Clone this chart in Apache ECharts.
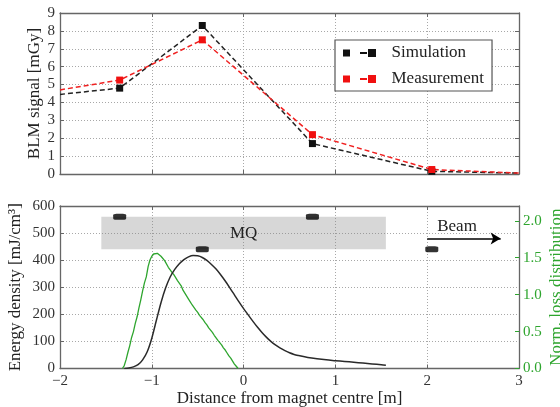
<!DOCTYPE html>
<html>
<head>
<meta charset="utf-8">
<script src="https://cdn.jsdelivr.net/npm/echarts@6/dist/echarts.min.js"></script>
<style>
  html, body { margin: 0; padding: 0; background: #fff; }
  #chart { width: 560px; height: 407px; }
</style>
</head>
<body>
<div id="chart"></div>
<script>
// BLM positions along the beam line [m] and their signals [mGy]
const blmPos = [-1.35, -0.45, 0.75, 2.05];
const simSignal = [4.8, 8.3, 1.7, 0.15];
const measSignal = [5.25, 7.5, 2.2, 0.25];
// dashed guide lines continue to the edges of the plot
const edgeX = [-2, 3];
const simEdge = [4.45, 0.05];
const measEdge = [4.7, 0.05];

// energy density along the magnet [mJ/cm^3]
const densityX = [-1.30, -1.25, -1.20, -1.15, -1.10, -1.05, -1.00, -0.95, -0.90, -0.85,
  -0.80, -0.75, -0.70, -0.65, -0.60, -0.55, -0.50, -0.45, -0.40, -0.35,
  -0.30, -0.25, -0.20, -0.15, -0.10, -0.05, 0.00, 0.05, 0.10, 0.15,
  0.20, 0.25, 0.30, 0.35, 0.40, 0.45, 0.50, 0.55, 0.60, 0.70,
  0.80, 0.90, 1.00, 1.10, 1.20, 1.30, 1.40, 1.50, 1.55];
const densityVal = [0, 2, 6, 14, 32, 62, 112, 178, 243, 297,
  338, 366, 387, 402, 412, 417, 416, 410, 399, 384,
  367, 346, 323, 298, 272, 246, 221, 198, 175, 153,
  133, 115, 99, 86, 75, 66, 58, 52, 48, 41,
  36, 32, 29, 26, 23, 20, 17, 14, 12];

// normalised loss distribution (right axis)
const lossX = [-1.32, -1.30, -1.28, -1.26, -1.24, -1.22, -1.20, -1.18, -1.16, -1.14,
  -1.12, -1.10, -1.08, -1.06, -1.04, -1.02, -1.00, -0.98, -0.96, -0.94,
  -0.92, -0.90, -0.88, -0.86, -0.84, -0.82, -0.80, -0.78, -0.76, -0.74,
  -0.72, -0.70, -0.68, -0.66, -0.64, -0.62, -0.60, -0.58, -0.56, -0.54,
  -0.52, -0.50, -0.48, -0.46, -0.44, -0.42, -0.40, -0.38, -0.36, -0.34,
  -0.32, -0.30, -0.28, -0.26, -0.24, -0.22, -0.20, -0.18, -0.16, -0.14,
  -0.12, -0.10, -0.08, -0.06];
const lossVal = [0.00, 0.04, 0.12, 0.22, 0.31, 0.42, 0.50, 0.61, 0.70, 0.82,
  0.93, 1.05, 1.16, 1.24, 1.38, 1.47, 1.52, 1.55, 1.53, 1.56,
  1.54, 1.52, 1.50, 1.46, 1.44, 1.37, 1.36, 1.30, 1.27, 1.25,
  1.19, 1.17, 1.12, 1.06, 1.05, 0.98, 0.94, 0.92, 0.86, 0.84,
  0.79, 0.76, 0.72, 0.70, 0.66, 0.62, 0.59, 0.55, 0.53, 0.49,
  0.45, 0.43, 0.38, 0.35, 0.32, 0.28, 0.25, 0.21, 0.17, 0.14,
  0.10, 0.06, 0.03, 0.00];

// detector markers drawn on the magnet outline, magnet extent and beam arrow
const blmMarkY = [560, 440, 560, 440];
const magnetSpan = [-1.55, 1.55];
const magnetBand = [440, 560];
const beamArrow = { from: 2.0, to: 2.8, level: 480 };

const FONT = '"Liberation Serif", "DejaVu Serif", serif';
const FRAME = '#666';
const GRID_LINE = { show: true, lineStyle: { color: '#a8a8a8', type: [1, 2], width: 1 } };
const GREEN = '#2ea52e';
const minus = v => String(v).replace('-', '\u2212');

function lineData(edges, vals) {
  const pts = [{ value: [edgeX[0], edges[0]], symbol: 'none' }];
  blmPos.forEach((x, i) => pts.push([x, vals[i]]));
  pts.push({ value: [edgeX[1], edges[1]], symbol: 'none' });
  return pts;
}

function mirrorAxis(extra) {
  return Object.assign({
    type: 'value', axisLabel: { show: false },
    nameMoveOverlap: false,
    axisTick: { show: true, inside: true, length: 4, lineStyle: { color: FRAME } },
    axisLine: { show: true, onZero: false, lineStyle: { color: FRAME, width: 1.3 } },
    splitLine: { show: false }
  }, extra);
}

const chart = echarts.init(document.getElementById('chart'));
chart.setOption({
  animation: false,
  textStyle: { fontFamily: FONT },
  grid: [
    { left: 60, right: 41, top: 13, height: 161, show: false, outerBoundsMode: 'none' },
    { left: 60, right: 41, top: 206, height: 162.5, show: false, outerBoundsMode: 'none' }
  ],
  legend: {
    data: ['Simulation', 'Measurement'],
    orient: 'vertical',
    left: 335, top: 40,
    backgroundColor: '#fff',
    borderColor: '#555', borderWidth: 1.2,
    padding: [4, 8, 3, 8],
    itemGap: 8,
    itemWidth: 34, itemHeight: 8,
    icon: 'path://M0,0.5h7v7h-7zM17,3h7v2h-7zM25,0h8v8h-8z',
    textStyle: { fontFamily: FONT, fontSize: 17, color: '#222', lineHeight: 18, padding: [0, 0, 0, 10] }
  },
  xAxis: [
    mirrorAxis({ gridIndex: 0, min: -2, max: 3, interval: 1, position: 'bottom', splitLine: GRID_LINE }),
    mirrorAxis({ gridIndex: 0, min: -2, max: 3, interval: 1, position: 'top' }),
    mirrorAxis({
      gridIndex: 1, min: -2, max: 3, interval: 1, position: 'bottom', splitLine: GRID_LINE,
      axisLabel: { show: true, color: '#333', fontSize: 15, margin: 5, formatter: minus },
      name: 'Distance from magnet centre [m]', nameLocation: 'middle', nameGap: 22,
      nameTextStyle: { fontFamily: FONT, fontSize: 17, color: '#222' }
    }),
    mirrorAxis({ gridIndex: 1, min: -2, max: 3, interval: 1, position: 'top' })
  ],
  yAxis: [
    mirrorAxis({
      gridIndex: 0, min: 0, max: 9, interval: 1, position: 'left', splitLine: GRID_LINE,
      axisLabel: { show: true, color: '#333', fontSize: 15, margin: 5 },
      name: 'BLM signal [mGy]', nameLocation: 'middle', nameGap: 17, nameRotate: 90,
      nameTextStyle: { fontFamily: FONT, fontSize: 17, color: '#222' }
    }),
    mirrorAxis({ gridIndex: 0, min: 0, max: 9, interval: 1, position: 'right' }),
    mirrorAxis({
      gridIndex: 1, min: 0, max: 600, interval: 100, position: 'left', splitLine: GRID_LINE,
      axisLabel: { show: true, color: '#333', fontSize: 15, margin: 5 },
      name: 'Energy density [mJ/cm\u00b3]', nameLocation: 'middle', nameGap: 36, nameRotate: 90,
      nameTextStyle: { fontFamily: FONT, fontSize: 17, color: '#222' }
    }),
    mirrorAxis({
      gridIndex: 1, min: 0, max: 2.2, interval: 0.5, position: 'right',
      axisTick: { show: true, inside: true, length: 4, lineStyle: { color: GREEN } },
      axisLabel: {
        show: true, color: GREEN, fontSize: 15, margin: 4, showMaxLabel: false,
        formatter: v => (v > 2.01 ? '' : v.toFixed(1))
      },
      name: 'Norm. loss distribution', nameLocation: 'middle', nameGap: 29, nameRotate: 90,
      nameTextStyle: { fontFamily: FONT, fontSize: 17, color: GREEN }
    })
  ],
  series: [
    {
      name: 'Simulation', type: 'line', xAxisIndex: 0, yAxisIndex: 0,
      data: lineData(simEdge, simSignal),
      symbol: 'rect', symbolSize: 7,
      itemStyle: { color: '#111' },
      lineStyle: { color: '#222', width: 1.5, type: [5, 3] }
    },
    {
      name: 'Measurement', type: 'line', xAxisIndex: 0, yAxisIndex: 0,
      data: lineData(measEdge, measSignal),
      symbol: 'rect', symbolSize: 7,
      itemStyle: { color: '#f01010' },
      lineStyle: { color: '#f02020', width: 1.5, type: [5, 3] }
    },
    {
      name: 'Energy density', type: 'line', xAxisIndex: 2, yAxisIndex: 2,
      data: densityX.map((x, i) => [x, densityVal[i]]),
      showSymbol: false, symbol: 'none', smooth: 0.3,
      lineStyle: { color: '#2a2a2a', width: 1.5 },
      markArea: {
        silent: true,
        itemStyle: { color: 'rgba(130,130,130,0.32)' },
        label: { show: true, position: 'inside', formatter: 'MQ', fontFamily: FONT, fontSize: 17, color: '#222' },
        data: [[{ xAxis: magnetSpan[0], yAxis: magnetBand[0] }, { xAxis: magnetSpan[1], yAxis: magnetBand[1] }]]
      },
      z: 3
    },
    {
      name: 'Loss distribution', type: 'line', xAxisIndex: 2, yAxisIndex: 3,
      data: lossX.map((x, i) => [x, lossVal[i]]),
      showSymbol: false, symbol: 'none',
      lineStyle: { color: GREEN, width: 1.3 },
      z: 2
    },
    {
      name: 'BLM', type: 'scatter', xAxisIndex: 2, yAxisIndex: 2,
      data: blmPos.map((x, i) => [x, blmMarkY[i]]),
      symbol: 'roundRect', symbolSize: [13, 6],
      itemStyle: { color: '#000' },
      markLine: {
        silent: true,
        symbol: ['none', 'arrow'], symbolSize: [9, 10],
        lineStyle: { color: '#000', width: 1.5, type: 'solid' },
        label: { show: true, formatter: 'Beam', position: 'insideStartTop', distance: [10, 3], fontFamily: FONT, fontSize: 17, color: '#222' },
        data: [[{ coord: [beamArrow.from, beamArrow.level] }, { coord: [beamArrow.to, beamArrow.level] }]]
      },
      z: 5
    }
  ]
});
</script>
</body>
</html>
